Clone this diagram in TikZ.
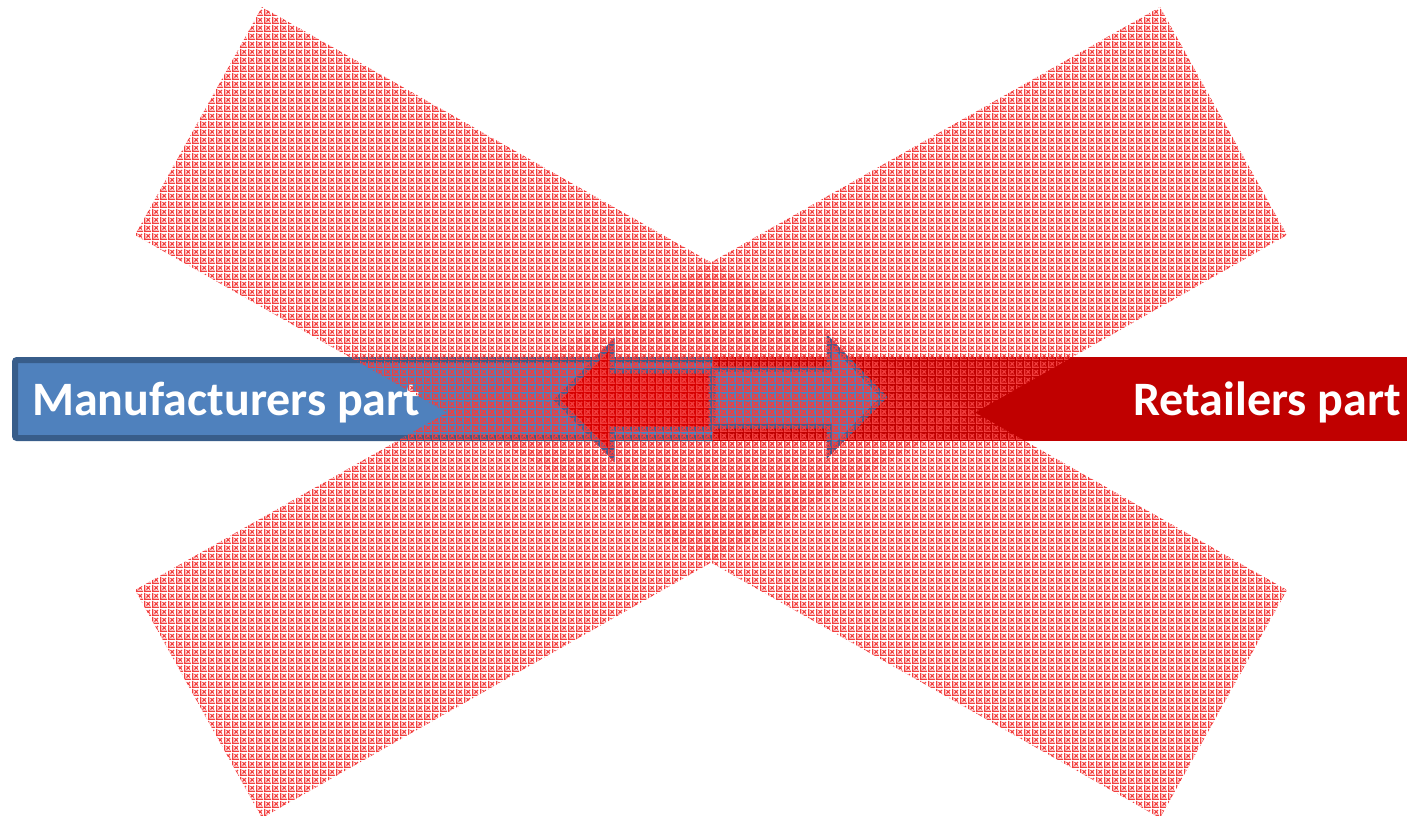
\documentclass[tikz,border=0pt]{standalone}
\usepackage{fontspec}
\setmainfont{Carlito}
\usetikzlibrary{patterns}
\pgfdeclarepatternformonly{xgrid}{\pgfqpoint{0pt}{0pt}}{\pgfqpoint{8pt}{8pt}}{\pgfqpoint{8pt}{8pt}}{%
  \pgfpathrectangle{\pgfqpoint{0pt}{0pt}}{\pgfqpoint{8pt}{1.5pt}}%
  \pgfpathrectangle{\pgfqpoint{0pt}{1.5pt}}{\pgfqpoint{1.5pt}{6.5pt}}%
  \pgfusepath{fill}%
  \pgfsetlinewidth{1.2pt}%
  \pgfpathmoveto{\pgfqpoint{2.8pt}{2.8pt}}\pgfpathlineto{\pgfqpoint{6.7pt}{6.7pt}}%
  \pgfpathmoveto{\pgfqpoint{2.8pt}{6.7pt}}\pgfpathlineto{\pgfqpoint{6.7pt}{2.8pt}}%
  \pgfusepath{stroke}%
}
\definecolor{bandblue}{RGB}{79,129,189}
\definecolor{bandblueline}{RGB}{56,93,138}
\definecolor{bandred}{RGB}{192,0,0}
\definecolor{arrowred}{RGB}{215,0,0}
\definecolor{arrowline}{RGB}{72,92,142}
\definecolor{xpink}{RGB}{242,62,62}
\tikzset{
  bandtext/.style={inner sep=0pt, text=white, font=\bfseries\fontsize{48}{57}\selectfont},
  arrowshape/.style={draw=arrowline, line width=5pt, line join=miter},
  crossbar/.style={pattern=xgrid, pattern color=xpink},
}
\begin{document}
\begin{tikzpicture}[x=1pt,y=-1pt]
\useasboundingbox (0,0) rectangle (1407,815);
\begin{scope}
\clip (0,0) rectangle (1407,815);
% bands
\draw[fill=bandblue, draw=bandblueline, line width=6pt, rounded corners=2pt] (15,360) rectangle (716,438);
\fill[bandred] (713,357) rectangle (1407,441);
\node[bandtext, anchor=base west] (manu) at (32,415) {Manufacturers part};
\node[bandtext, anchor=base east] (retail) at (1401,415) {Retailers part};
% double arrow
\draw[arrowshape, fill=arrowred] (557,400) -- (612,344) -- (612,371) -- (711,371) -- (711,429) -- (612,429) -- (612,456) -- cycle;
\draw[arrowshape, fill=bandblue] (713,369) -- (829,369) -- (829,340) -- (884,397) -- (829,453) -- (829,426) -- (713,426) -- cycle;
% the X
\fill[crossbar] (262,7) -- (1287,590) -- (1160,818) -- (135,235) -- cycle;
\fill[crossbar] (1160,7) -- (1287,235) -- (262,818) -- (135,590) -- cycle;
\end{scope}
\end{tikzpicture}
\end{document}
